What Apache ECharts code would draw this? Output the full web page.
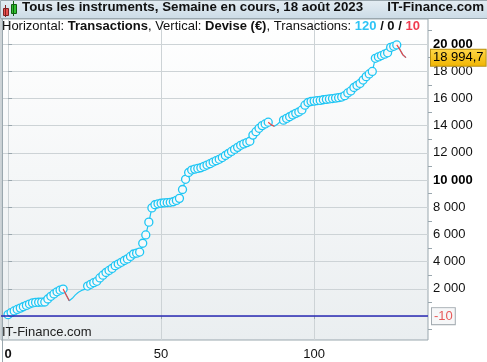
<!DOCTYPE html>
<html>
<head>
<meta charset="utf-8">
<script src="https://cdn.jsdelivr.net/npm/echarts@6/dist/echarts.min.js"></script>
<style>
html,body{margin:0;padding:0;background:#fff;}
#c{width:487px;height:362px;}
</style>
</head>
<body>
<div id="c"></div>
<script>
// ---- Data ----
const titleText = 'Tous les instruments, Semaine en cours, 18 août 2023';
const brandText = 'IT-Finance.com';
const countWin = 120, countZero = 0, countLoss = 10;

// cumulative equity per transaction index 0..130
const equity = [
  100, 250, 370, 480, 580, 680, 780, 880, 960, 1000,
  1010, 1020, 1030, 1250, 1450, 1620, 1780, 1900, 1980, 1550,
  1120, 1300, 1550, 1750, 1880, 1960, 2200, 2330, 2450, 2550,
  2800, 3000, 3200, 3350, 3500, 3700, 3820, 3950, 4080, 4200,
  4380, 4560, 4620, 4700, 5350, 5960, 6900, 7950, 8180, 8250,
  8290, 8320, 8340, 8360, 8400, 8500, 8650, 9300, 10050, 10550,
  10730, 10800, 10850, 10900, 11000, 11100, 11200, 11320, 11420, 11520,
  11650, 11800, 11950, 12100, 12250, 12400, 12550, 12650, 12750, 12850,
  13300, 13550, 13800, 14000, 14120, 14250, 14050, 13950, 14100, 14300,
  14400, 14530, 14650, 14780, 14900, 15000, 15150, 15500, 15700, 15770,
  15800, 15830, 15850, 15900, 15930, 15960, 15990, 16020, 16050, 16100,
  16200, 16400, 16550, 16800, 16950, 17100, 17350, 17600, 17800, 17980,
  18950, 19050, 19150, 19250, 19350, 19750, 19830, 19930, 19600, 19200,
  18994.7
];
// indices of losing transactions (drawn red)
const lossIdx = [19, 20, 86, 87, 128, 129, 130];
// indices drawn as line only (no marker)
const noMarkIdx = [21, 22, 23, 24, 25, 88, 89];
const refLevel = -10;

const yLabels = [2000, 4000, 6000, 8000, 10000, 12000, 14000, 16000, 18000, 20000];
const yMinorTicks = [-1000, 1000, 3000, 5000, 7000, 9000, 11000, 13000, 15000, 17000, 19000, 21000];
const yMajorTicks = [0, 2000, 4000, 6000, 8000, 10000, 12000, 14000, 16000, 18000, 20000];
const xLabels = [0, 50, 100];

// ---- helpers ----
function fmt(v) {
  const neg = v < 0;
  const a = Math.abs(v);
  const ip = Math.floor(a);
  const dec = Math.round((a - ip) * 10);
  let s = String(ip).replace(/\B(?=(\d{3})+(?!\d))/g, ' ');
  if (dec) s += ',' + dec;
  return (neg ? '-' : '') + s;
}

const CYAN = '#1fc6f4';
const RED = '#f04444';
const FONT = '"Liberation Sans", Arial, sans-serif';

const mainData = equity.map((v, i) => {
  const hide = lossIdx.indexOf(i) >= 0 || noMarkIdx.indexOf(i) >= 0;
  return hide ? { value: [i, v], symbol: 'none' } : { value: [i, v] };
});
const redData = equity.map((v, i) => {
  const isLoss = lossIdx.indexOf(i) >= 0;
  const nextLoss = lossIdx.indexOf(i + 1) >= 0;
  return (isLoss || nextLoss) ? [i, v] : [i, null];
});
const last = equity[equity.length - 1];

const chart = echarts.init(document.getElementById('c'), null, { renderer: 'canvas' });
chart.setOption({
  animation: false,
  textStyle: { fontFamily: FONT },
  grid: {
    left: 1, right: 59, top: 19, bottom: 22,
    show: true,
    backgroundColor: new echarts.graphic.LinearGradient(0, 0, 0, 1, [
      { offset: 0, color: '#ffffff' }, { offset: 1, color: '#eaeef0' }
    ]),
    borderColor: '#9aa7ae', borderWidth: 1
  },
  xAxis: {
    type: 'value', min: -2.3, max: 137.2,
    axisLine: { show: false },
    axisTick: { show: true, customValues: xLabels, length: 3, lineStyle: { color: '#9aa7ae' } },
    axisLabel: {
      customValues: xLabels, margin: 8, fontSize: 13, color: '#111',
      formatter: v => v === 0 ? '{b|0}' : String(v),
      rich: { b: { fontWeight: 'bold', fontSize: 13, color: '#111', fontFamily: FONT } }
    },
    splitLine: { show: true, lineStyle: { color: '#cdd3d6', width: 1 } }
  },
  yAxis: [{
    type: 'value', position: 'right', min: -1765, max: 21838,
    axisLine: { show: false },
    axisTick: { show: true, customValues: yMajorTicks, length: 4, inside: false, lineStyle: { color: '#9aa7ae' } },
    axisLabel: {
      customValues: yLabels, margin: 5, fontSize: 13, color: '#111',
      formatter: v => (v % 10000 === 0) ? '{b|' + fmt(v) + '}' : fmt(v),
      rich: { b: { fontWeight: 'bold', fontSize: 13, color: '#000', fontFamily: FONT } }
    },
    splitLine: { show: true, lineStyle: { color: '#cdd3d6', width: 1 } }
  }, {
    type: 'value', position: 'right', min: -1765, max: 21838,
    axisLine: { show: false },
    axisTick: { show: true, customValues: yMinorTicks, length: 4, lineStyle: { color: '#9aa7ae' } },
    axisLabel: { show: false },
    splitLine: { show: false }
  }],
  series: [{
    type: 'line',
    data: mainData,
    symbol: 'circle',
    symbolSize: 8,
    lineStyle: { color: CYAN, width: 1.2 },
    itemStyle: { color: '#f7f9fa', borderColor: CYAN, borderWidth: 1.3 },
    z: 3,
    markLine: {
      silent: true, symbol: 'none',
      data: [
        {
          yAxis: refLevel,
          lineStyle: { color: '#2a2ab4', width: 1.5, type: 'solid' },
          label: {
            show: true, position: 'end', distance: 4, formatter: () => String(refLevel),
            color: '#e85a5a', fontSize: 13, fontFamily: FONT,
            backgroundColor: '#f6f7f8', borderColor: '#a2aab0', borderWidth: 1,
            padding: [2, 2, 1, 2]
          }
        },
        {
          yAxis: last,
          lineStyle: { color: 'rgba(0,0,0,0)', width: 0 },
          label: {
            show: true, position: 'end', distance: 3, formatter: () => fmt(last),
            color: '#000', fontSize: 13, fontFamily: FONT,
            backgroundColor: new echarts.graphic.LinearGradient(0, 0, 0, 1, [
              { offset: 0, color: '#ffd84a' }, { offset: 1, color: '#f0b400' }
            ]),
            borderColor: '#b98f10', borderWidth: 1,
            padding: [2, 2, 1, 2]
          }
        }
      ]
    }
  }, {
    type: 'line',
    data: redData,
    symbol: 'none',
    connectNulls: false,
    lineStyle: { color: RED, width: 1.2 },
    z: 4
  }],
  graphic: [
    {
      type: 'rect', left: 0, top: 0, z: 10,
      shape: { width: 487, height: 18 },
      style: {
        fill: new echarts.graphic.LinearGradient(0, 0, 0, 1, [
          { offset: 0, color: '#e4edf3' }, { offset: 1, color: '#cbdbe6' }
        ]),
        stroke: '#9aa7ae', lineWidth: 1
      }
    },
    { type: 'rect', left: 3, top: 8, z: 11, shape: { width: 5, height: 7 }, style: { fill: '#e85050', stroke: '#802020', lineWidth: 1 } },
    { type: 'rect', left: 5, top: 5, z: 11, shape: { width: 1, height: 12 }, style: { fill: '#802020' } },
    { type: 'rect', left: 11, top: 4, z: 11, shape: { width: 5, height: 9 }, style: { fill: '#30c030', stroke: '#106010', lineWidth: 1 } },
    { type: 'rect', left: 13, top: 1, z: 11, shape: { width: 1, height: 15 }, style: { fill: '#106010' } },
    {
      type: 'text', left: 22, top: 1, z: 11,
      style: { text: titleText, font: 'bold 13.3px ' + FONT, fill: '#111' }
    },
    {
      type: 'text', right: 3, top: 1, z: 11,
      style: { text: brandText, font: 'bold 13.3px ' + FONT, fill: '#111' }
    },
    {
      type: 'text', left: 2, top: 20, z: 11,
      style: {
        text: '{n|Horizontal: }{b|Transactions}{n|, Vertical: }{b|Devise (€)}{n|, Transactions: }{c|' + countWin + '}{b| / ' + countZero + ' / }{r|' + countLoss + '}',
        rich: {
          n: { font: '13px ' + FONT, fill: '#111' },
          b: { font: 'bold 13px ' + FONT, fill: '#111' },
          c: { font: 'bold 13px ' + FONT, fill: '#2ec4f5' },
          r: { font: 'bold 13px ' + FONT, fill: '#f03c50' }
        }
      }
    },
    {
      type: 'text', left: 2, top: 326, z: 11,
      style: { text: brandText, font: '13px ' + FONT, fill: '#222' }
    },
    {
      type: 'rect', left: 0, top: 0, z: 1,
      shape: { width: 486, height: 361 },
      style: { fill: 'none', stroke: '#9aa7ae', lineWidth: 1 }
    }
  ]
});
</script>
</body>
</html>
